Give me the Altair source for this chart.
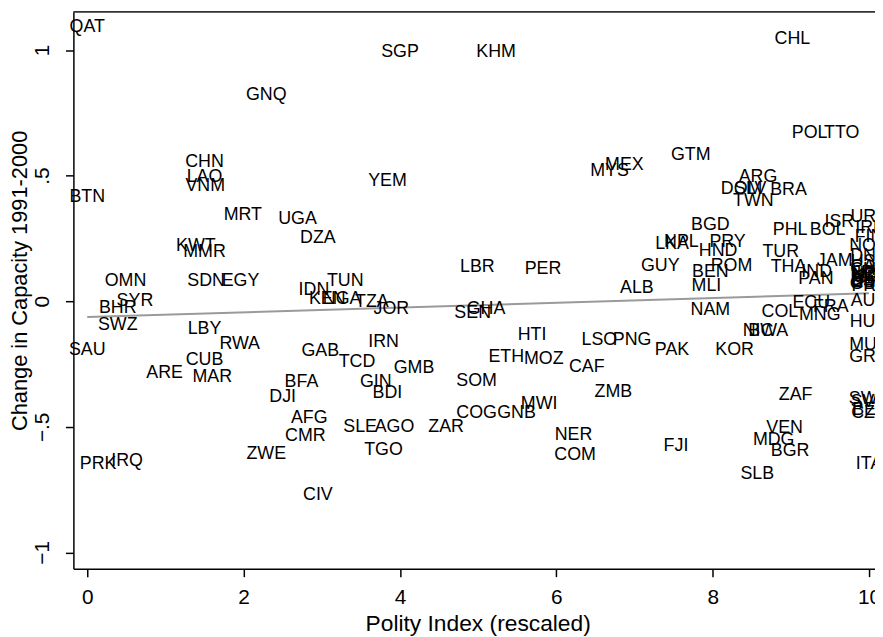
import altair as alt
import pandas as pd

# Country codes, rescaled Polity index (x) and change in capacity 1991-2000 (y)
codes = [
    "QAT", "SGP", "KHM", "CHL", "GNQ", "POL", "TTO", "GTM", "MEX", "MYS",
    "CHN", "LAO", "VNM", "YEM", "BTN", "ARG", "DOM", "SLV", "BRA", "TWN",
    "MRT", "UGA", "BGD", "ISR", "URY", "IRL", "PHL", "BOL", "FIN", "DZA",
    "LKA", "NPL", "PRY", "KWT", "NOR", "HND", "TUR", "MMR", "DNK", "JAM",
    "LBR", "PER", "GUY", "ROM", "THA", "BEN", "IND", "PAN", "USA", "CAN",
    "CHE", "JPN", "NLD", "NZL", "CRI", "DEU", "ESP", "GBR", "PRT", "ALB",
    "MLI", "OMN", "SDN", "EGY", "TUN", "IDN", "KEN", "NGA", "SYR", "TZA",
    "AUS", "ECU", "FRA", "BHR", "JOR", "GHA", "SEN", "NAM", "COL", "MNG",
    "HUN", "SWZ", "LBY", "BWA", "NIC", "HTI", "LSO", "PNG", "PAK", "KOR",
    "IRN", "RWA", "MUS", "SAU", "GAB", "ETH", "GRC", "MOZ", "CUB", "TCD",
    "CAF", "GMB", "ARE", "MAR", "SOM", "BFA", "GIN", "ZMB", "BDI", "ZAF",
    "DJI", "SWE", "SVN", "MWI", "BEL", "CZE", "COG", "GNB", "AFG", "SLE",
    "AGO", "ZAR", "VEN", "NER", "CMR", "MDG", "FJI", "BGR", "ZWE", "COM",
    "TGO", "IRQ", "PRK", "ITA", "SLB", "CIV",
]
polity = [
    0.00, 4.00, 5.23, 9.02, 2.29, 9.24, 9.65, 7.72, 6.87, 6.68,
    1.50, 1.50, 1.51, 3.84, 0.00, 8.58, 8.37, 8.48, 8.97, 8.52,
    1.99, 2.69, 7.97, 9.62, 10.0, 10.0, 8.99, 9.47, 10.0, 2.95,
    7.48, 7.60, 8.19, 1.39, 10.0, 8.07, 8.87, 1.50, 10.0, 9.56,
    4.99, 5.83, 7.33, 8.24, 8.97, 7.97, 9.33, 9.32, 10.0, 10.0,
    10.0, 10.0, 10.0, 10.0, 10.0, 10.0, 10.0, 10.0, 10.0, 7.03,
    7.92, 0.49, 1.52, 1.96, 3.30, 2.90, 3.07, 3.26, 0.61, 3.64,
    10.0, 9.26, 9.51, 0.39, 3.89, 5.10, 4.93, 7.97, 8.86, 9.37,
    10.0, 0.39, 1.50, 8.71, 8.58, 5.69, 6.55, 6.97, 7.48, 8.28,
    3.79, 1.95, 10.0, 0.00, 2.98, 5.36, 10.0, 5.84, 1.50, 3.45,
    6.39, 4.18, 0.99, 1.60, 4.98, 2.74, 3.69, 6.73, 3.84, 9.06,
    2.50, 10.0, 10.0, 5.78, 10.0, 10.0, 4.98, 5.49, 2.84, 3.49,
    3.93, 4.59, 8.92, 6.22, 2.79, 8.78, 7.53, 8.99, 2.29, 6.24,
    3.79, 0.51, 0.14, 10.0, 8.57, 2.95,
]
change = [
    1.093, 0.994, 0.994, 1.045, 0.820, 0.670, 0.670, 0.580, 0.544, 0.517,
    0.556, 0.493, 0.458, 0.477, 0.414, 0.493, 0.446, 0.446, 0.442, 0.398,
    0.343, 0.327, 0.304, 0.316, 0.335, 0.292, 0.284, 0.284, 0.256, 0.252,
    0.229, 0.237, 0.237, 0.221, 0.221, 0.201, 0.197, 0.197, 0.178, 0.158,
    0.138, 0.130, 0.142, 0.142, 0.138, 0.118, 0.118, 0.087, 0.154, 0.138,
    0.126, 0.114, 0.107, 0.099, 0.091, 0.083, 0.075, 0.067, 0.059, 0.051,
    0.059, 0.079, 0.079, 0.079, 0.079, 0.043, 0.008, 0.008, 0.000, -0.004,
    0.000, -0.008, -0.024, -0.028, -0.032, -0.032, -0.047, -0.036, -0.043, -0.055,
    -0.083, -0.095, -0.110, -0.118, -0.118, -0.134, -0.154, -0.154, -0.193, -0.193,
    -0.162, -0.170, -0.174, -0.193, -0.197, -0.221, -0.221, -0.229, -0.233, -0.241,
    -0.264, -0.268, -0.284, -0.300, -0.316, -0.320, -0.320, -0.363, -0.367, -0.375,
    -0.383, -0.391, -0.402, -0.410, -0.434, -0.446, -0.446, -0.446, -0.465, -0.501,
    -0.501, -0.501, -0.505, -0.533, -0.536, -0.552, -0.576, -0.596, -0.607, -0.611,
    -0.592, -0.635, -0.647, -0.647, -0.690, -0.773,
]

# Linear fit line endpoints
fit_x = [0, 10]
fit_y = [-0.063, 0.032]

x_ticks = [0, 2, 4, 6, 8, 10]
y_ticks = [-1, -0.5, 0, 0.5, 1]

df = pd.DataFrame({"code": codes, "polity": polity, "change": change})
fit = pd.DataFrame({"x": fit_x, "y": fit_y})

W, H = 809, 562
FONT = "Liberation Sans"
XT = "Polity Index (rescaled)"
YT = "Change in Capacity 1991-2000"

xs = alt.Scale(domain=[-0.177, 10.076], nice=False, zero=False)
ys = alt.Scale(domain=[-1.065, 1.152], nice=False, zero=False)

x_axis = alt.Axis(values=x_ticks, title=XT, format="d", labelPadding=10, titlePadding=5,
                  titleFontSize=23, titleX=408, titleAlign="center",
                  labelFlush=False, labelOverlap=False)
y_axis = alt.Axis(values=y_ticks, title=YT, labelAngle=270, labelAlign="center",
                  labelBaseline="bottom", labelPadding=13, titlePadding=0,
                  titleFontSize=22, titleY=271, titleAlign="center",
                  labelFlush=False, labelOverlap=False,
                  labelExpr="replace(format(datum.value, '~g'), '0.', '.')")

fit_line = alt.Chart(fit).mark_line(color="#9a9a9a", strokeWidth=2, clip=True).encode(
    x=alt.X("x:Q", scale=xs, axis=x_axis),
    y=alt.Y("y:Q", scale=ys, axis=y_axis),
)

labels = alt.Chart(df).mark_text(
    font=FONT, fontSize=18, color="black", align="center", baseline="middle"
).encode(
    x=alt.X("polity:Q", scale=xs, title=XT),
    y=alt.Y("change:Q", scale=ys, title=YT),
    text="code:N",
)

top_rule = alt.Chart(pd.DataFrame({"a": [0]})).mark_rule(color="#333333", strokeWidth=2).encode(
    x=alt.value(0), x2=alt.value(W), y=alt.value(0)
)

chart = alt.layer(fit_line, labels, top_rule).properties(
    width=W, height=H,
    autosize=alt.AutoSizeParams(type="none"),
    padding={"left": 66, "top": 1, "right": 0, "bottom": 66},
    background="white",
).configure_view(stroke=None).configure_axis(
    grid=False,
    domainColor="black", domainWidth=1.5,
    tickColor="black", tickWidth=1.5, tickSize=8,
    labelFont=FONT, labelFontSize=21, labelColor="black",
    titleFont=FONT, titleFontWeight="normal", titleColor="black",
)

chart.save("out.html", embed_options={"renderer": "svg", "actions": False})
